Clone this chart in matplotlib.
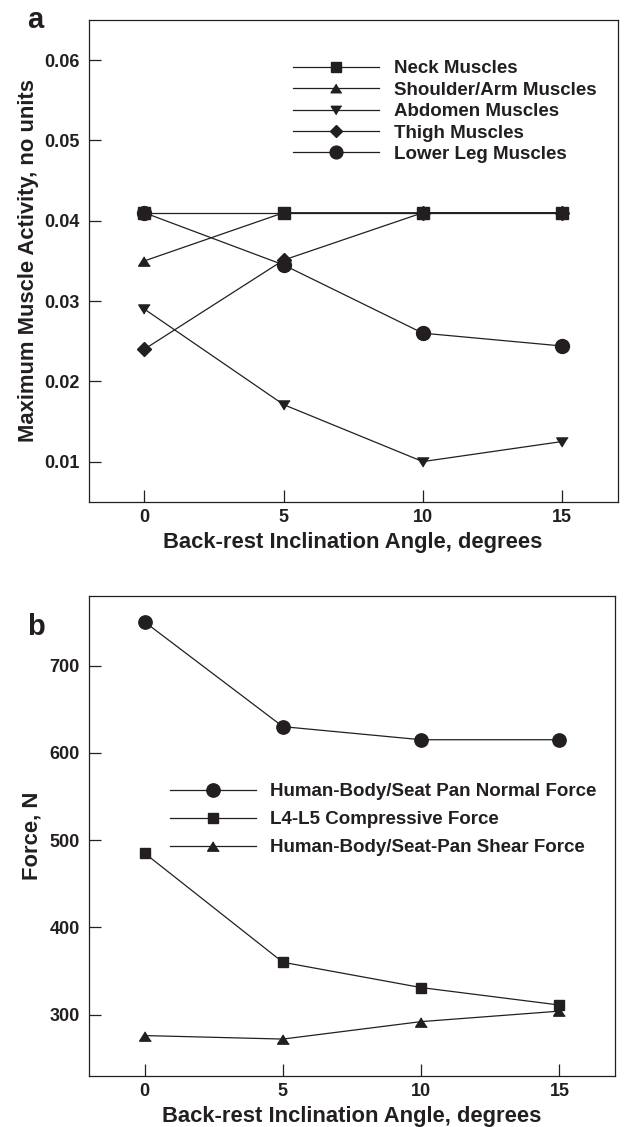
import matplotlib
matplotlib.use('Agg')
from matplotlib import pyplot as plt

# angles du dossier (degrés)
angles = [0, 5, 10, 15]

# panneau a : activité musculaire maximale
neck = [0.041, 0.041, 0.041, 0.041]
shoulder_arm = [0.035, 0.041, 0.041, 0.041]
abdomen = [0.029, 0.0171, 0.010, 0.0125]
thigh = [0.024, 0.0351, 0.041, 0.041]
lower_leg = [0.041, 0.0345, 0.026, 0.0244]
labels_a = ['Neck Muscles', 'Shoulder/Arm Muscles', 'Abdomen Muscles',
            'Thigh Muscles', 'Lower Leg Muscles']

# panneau b : forces (N)
normal_force = [750, 630, 615, 615]
compressive_force = [485, 360, 331, 311]
shear_force = [276, 272, 292, 304]
labels_b = ['Human-Body/Seat Pan Normal Force', 'L4-L5 Compressive Force',
            'Human-Body/Seat-Pan Shear Force']

ink = '#231f20'
plt.rcParams['font.family'] = ['Liberation Sans', 'DejaVu Sans']
plt.rcParams['font.weight'] = 'bold'
plt.rcParams['text.color'] = ink
plt.rcParams['axes.labelcolor'] = ink
plt.rcParams['axes.labelweight'] = 'bold'
plt.rcParams['xtick.color'] = ink
plt.rcParams['ytick.color'] = ink

# triangles un peu aplatis comme sur la figure
tri_up = [(0, 0.8), (-1, -0.8), (1, -0.8)]
tri_down = [(0, -0.8), (-1, 0.8), (1, 0.8)]


def style_axes(ax):
    for sp in ax.spines.values():
        sp.set_linewidth(0.9)
        sp.set_color(ink)
    ax.tick_params(direction='in', length=8.8, width=0.9, labelsize=13,
                   top=False, right=False)
    ax.tick_params(axis='y', pad=6.8)
    ax.tick_params(axis='x', pad=5.2)
    ax.set_xlim(-2, 17)
    ax.set_xticks(angles)
    ax.set_xlabel('Back-rest Inclination Angle, degrees', fontsize=15.8)
    ax.xaxis.set_label_coords(0.5, -0.063)


fig = plt.figure(figsize=(6.24, 11.27), dpi=100)

# --- panneau a ---
ax1 = fig.add_axes([0.1421, 0.5548, 0.8478, 0.4274])
series_a = [neck, shoulder_arm, abdomen, thigh, lower_leg]
markers_a = ['s', tri_up, tri_down, 'D', 'o']
sizes_a = [8.4, 8.4, 8.2, 7.0, 10]
for vals, m, ms, lab in zip(series_a, markers_a, sizes_a, labels_a):
    ax1.plot(angles, vals, color=ink, linewidth=0.9, marker=m, markersize=ms,
             label=lab)
style_axes(ax1)
ax1.set_ylim(0.005, 0.065)
ax1.set_yticks([0.01, 0.02, 0.03, 0.04, 0.05, 0.06])
ax1.set_ylabel('Maximum Muscle Activity, no units', fontsize=15.8)
ax1.yaxis.set_label_coords(-0.093, 0.5)
ax1.legend(loc='upper left', bbox_to_anchor=(0.3868, 0.9165), frameon=False,
           fontsize=13.5, handlelength=4.59, handletextpad=0.78,
           labelspacing=0.228, borderpad=0, borderaxespad=0, numpoints=1,
           markerscale=0.92)
fig.text(0.0428, 0.9749, 'a', fontsize=21, fontweight='bold', ha='left',
         va='baseline')

# --- panneau b ---
ax2 = fig.add_axes([0.1431, 0.0455, 0.842, 0.4259])
series_b = [normal_force, compressive_force, shear_force]
markers_b = ['o', 's', tri_up]
sizes_b = [9.6, 7.5, 8.4]
for vals, m, ms, lab in zip(series_b, markers_b, sizes_b, labels_b):
    ax2.plot(angles, vals, color=ink, linewidth=0.9, marker=m, markersize=ms,
             label=lab)
style_axes(ax2)
ax2.set_ylim(230, 780)
ax2.set_yticks([300, 400, 500, 600, 700])
ax2.set_ylabel('Force, N', fontsize=15.8)
ax2.yaxis.set_label_coords(-0.090, 0.5)
ax2.legend(loc='upper left', bbox_to_anchor=(0.1536, 0.6098), frameon=False,
           fontsize=13.5, handlelength=4.59, handletextpad=0.75,
           labelspacing=0.578, borderpad=0, borderaxespad=0, numpoints=1)
fig.text(0.0428, 0.4366, 'b', fontsize=21, fontweight='bold', ha='left',
         va='baseline')

plt.savefig('out.png', dpi=100)
